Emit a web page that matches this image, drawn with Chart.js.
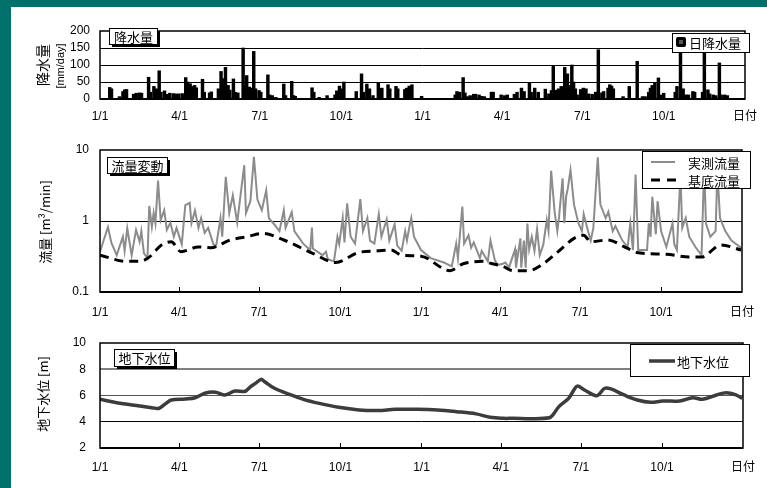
<!DOCTYPE html>
<html>
<head>
<meta charset="utf-8">
<script src="https://cdn.jsdelivr.net/npm/chart.js@4.4.1/dist/chart.umd.min.js"></script>
<style>
  html, body { margin: 0; padding: 0; }
  body {
    width: 767px; height: 488px; overflow: hidden; position: relative;
    background: linear-gradient(165deg, rgba(0,0,0,0) 76%, rgba(255,255,255,0.18) 79%, rgba(0,0,0,0) 84%), #00706b;
  }
  #panel { position: absolute; left: 11px; top: 7px; width: 756px; height: 481px; background: #fff; }
  canvas { position: absolute; left: 0; }
</style>
</head>
<body>
<div id="panel"></div>
<canvas id="rain" width="767" height="130" style="top:0"></canvas>
<canvas id="flow" width="767" height="190" style="top:130px"></canvas>
<canvas id="gw" width="767" height="168" style="top:320px"></canvas>
<script>
// x axis: days from 1/1 of the first year (two years)
const tickDays = [0, 90, 181, 273, 365, 455, 546, 638, 730];
const tickLabels = ["1/1", "4/1", "7/1", "10/1", "1/1", "4/1", "7/1", "10/1", "日付"];

// daily rainfall (mm/day), only rainy days
const rainDay = [11, 13, 22, 26, 28, 30, 38, 41, 45, 47, 55, 57, 61, 64, 67, 69, 73, 76, 79, 83, 86, 89, 93, 96, 97, 99,
  102, 105, 107, 109, 116, 118, 124, 126, 134, 137, 140, 142, 145, 147, 151, 153, 156, 162, 164, 166, 169, 171, 174, 176,
  180, 182, 190, 192, 195, 199, 208, 210, 217, 219, 221, 240, 242, 248, 257, 266, 268, 271, 273, 276, 290, 296, 298,
  302, 305, 309, 315, 317, 319, 326, 328, 335, 337, 345, 347, 350, 353, 364,
  402, 404, 407, 411, 413, 416, 419, 423, 425, 429, 432, 435, 443, 445, 454, 458, 461, 469, 472, 477, 480, 486, 488,
  492, 496, 504, 508, 511, 513, 516, 519, 522, 525, 526, 529, 531, 534, 536, 538, 540, 544, 547, 550, 553, 557, 561,
  564, 568, 570, 575, 577, 579, 581, 592, 599, 608, 614, 617, 621, 623, 625, 628, 632, 635, 638, 651, 653, 657, 660,
  663, 666, 671, 673, 682, 684, 688, 690, 694, 697, 701, 703, 707, 710];
const rainMm = [34, 30, 7, 22, 27, 28, 14, 17, 18, 17, 64, 20, 37, 30, 83, 20, 24, 14, 17, 16, 15, 15, 16, 12, 63, 50,
  45, 37, 40, 33, 58, 20, 18, 21, 30, 81, 60, 93, 40, 26, 59, 20, 18, 150, 40, 69, 35, 32, 140, 30,
  25, 20, 71, 12, 10, 5, 44, 10, 52, 10, 8, 33, 20, 5, 10, 12, 24, 38, 30, 50, 22, 74, 20,
  44, 30, 10, 49, 30, 32, 42, 30, 37, 30, 28, 32, 38, 42, 8,
  12, 22, 20, 63, 18, 7, 10, 14, 14, 12, 8, 7, 20, 20, 12, 10, 12, 14, 20, 32, 22, 47, 20,
  32, 20, 29, 15, 25, 96, 26, 30, 37, 30, 93, 74, 40, 100, 50, 30, 12, 28, 32, 30, 15, 14, 20,
  145, 18, 22, 32, 42, 38, 30, 7, 37, 111, 7, 7, 20, 32, 40, 47, 62, 12, 17, 20, 37, 136, 30,
  12, 12, 22, 20, 20, 141, 27, 15, 12, 10, 106, 12, 12, 10];

// measured flow (m3/min)
const flowDay = [0, 9, 13, 19, 26, 28, 31, 36, 41, 45, 47, 50, 54, 56, 59, 61, 63, 66, 69, 73, 76, 80, 84, 87, 93, 97,
  102, 104, 108, 112, 115, 119, 123, 129, 132, 137, 139, 143, 147, 151, 156, 164, 166, 171, 175, 179, 184, 189, 192,
  198, 204, 209, 211, 218, 221, 231, 239, 241, 242, 253, 257, 259, 266, 270, 272, 276, 278, 281, 285, 290, 296, 299,
  304, 307, 312, 317, 320, 326, 329, 335, 338, 343, 347, 349, 352, 354, 357, 365, 376, 391, 400, 405, 407, 412, 414,
  419, 422, 425, 432, 434, 441, 444, 449, 452, 458, 461, 465, 472, 473, 478, 479, 482, 484, 486, 488, 491, 494, 497,
  500, 504, 508, 510, 513, 517, 520, 522, 526, 528, 530, 532, 535, 539, 544, 548, 550, 555, 558, 561, 566, 569, 575,
  578, 583, 586, 594, 600, 603, 606, 609, 612, 622, 624, 626, 628, 632, 634, 638, 644, 651, 653, 656, 660, 662, 666,
  670, 677, 684, 687, 689, 694, 700, 702, 705, 711, 718, 729];
const flowVal = [0.37, 0.82, 0.49, 0.33, 0.6, 0.38, 0.79, 0.33, 0.75, 0.51, 0.72, 0.35, 0.3, 1.63, 0.83, 1.3, 0.93, 3.7,
  1.03, 1.42, 0.75, 0.95, 0.6, 0.8, 0.47, 1.67, 1.8, 0.93, 1.4, 0.8, 1.1, 0.68, 0.8, 0.47, 0.44, 1.1, 0.6, 4.2, 1.3,
  2.3, 0.95, 6.1, 1.3, 1.9, 8.0, 2.0, 1.42, 2.7, 1.1, 0.9, 0.72, 1.42, 0.8, 1.33, 0.72, 0.48, 0.39, 0.81, 0.41, 0.33,
  0.37, 0.29, 0.27, 0.6, 0.47, 1.1, 0.5, 1.77, 0.6, 0.48, 2.04, 0.72, 1.1, 0.53, 0.48, 1.25, 0.6, 1.05, 0.53, 0.9,
  0.45, 0.38, 0.72, 0.53, 0.85, 1.1, 0.6, 0.39, 0.3, 0.26, 0.23, 0.48, 0.3, 1.6, 0.48, 0.63, 0.42, 0.5, 0.3, 0.38,
  0.27, 0.53, 0.28, 0.24, 0.25, 0.26, 0.22, 0.4, 0.22, 0.57, 0.22, 0.53, 0.22, 0.92, 0.4, 0.6, 0.38, 0.77, 0.33, 0.46,
  1.03, 0.72, 5.1, 1.32, 0.72, 1.15, 4.0, 0.93, 2.2, 2.9, 5.2, 1.7, 0.93, 0.72, 1.25, 0.72, 0.53, 0.8, 7.9, 1.7, 1.1,
  1.35, 0.72, 0.85, 0.53, 0.43, 0.93, 0.39, 4.5, 0.39, 0.39, 0.93, 0.6, 2.2, 0.65, 1.9, 0.72, 0.43, 0.93, 0.47, 0.39,
  4.5, 0.8, 1.1, 0.6, 0.43, 0.33, 6.0, 0.93, 0.6, 0.72, 5.0, 1.1, 0.72, 0.53, 0.42];

// base flow (m3/min)
const baseDay = [0, 30, 45, 56, 70, 81, 92, 112, 126, 148, 167, 185, 209, 242, 268, 294, 316, 331, 343, 365, 398, 413,
  435, 446, 458, 469, 488, 502, 521, 539, 550, 558, 577, 600, 610, 644, 670, 684, 706, 729];
const baseVal = [0.33, 0.27, 0.27, 0.31, 0.46, 0.51, 0.37, 0.43, 0.42, 0.54, 0.6, 0.67, 0.54, 0.35, 0.26, 0.36, 0.38,
  0.39, 0.33, 0.32, 0.2, 0.25, 0.27, 0.25, 0.23, 0.2, 0.2, 0.24, 0.37, 0.57, 0.63, 0.51, 0.54, 0.41, 0.36, 0.34, 0.31,
  0.31, 0.46, 0.39];

// groundwater level (m)
const gwDay = [0, 19, 45, 64, 67, 75, 81, 97, 108, 119, 131, 142, 153, 164, 167, 171, 176, 183, 187, 198, 212, 231, 249,
  271, 294, 316, 335, 360, 383, 405, 427, 443, 458, 469, 491, 510, 514, 521, 532, 538, 542, 550, 564, 573, 580, 595,
  610, 625, 639, 658, 673, 684, 700, 711, 722, 729];
const gwVal = [5.71, 5.45, 5.2, 5.02, 5.02, 5.4, 5.66, 5.74, 5.83, 6.17, 6.25, 6.04, 6.34, 6.3, 6.42, 6.67, 6.9, 7.23,
  7.05, 6.55, 6.17, 5.71, 5.4, 5.1, 4.9, 4.85, 4.95, 4.95, 4.9, 4.77, 4.6, 4.34, 4.26, 4.26, 4.23, 4.3, 4.51, 5.15,
  5.78, 6.42, 6.72, 6.42, 5.99, 6.55, 6.5, 6.04, 5.66, 5.48, 5.58, 5.58, 5.83, 5.71, 6.04, 6.21, 6.04, 5.78];

const JP = '"Noto Sans CJK JP", sans-serif';
Chart.defaults.font.family = '"Liberation Sans", "Noto Sans CJK JP", sans-serif';
Chart.defaults.font.size = 12;
Chart.defaults.color = "#000";

const pts = (xs, ys) => xs.map((x, i) => ({ x: x, y: ys[i] }));

// frame, inner ticks, title box, legend and y title
const decor = {
  id: "decor",
  afterDraw(chart, args, o) {
    const { ctx, chartArea: a } = chart;
    ctx.save();
    ctx.strokeStyle = "#000";
    ctx.lineWidth = 1.5;
    ctx.strokeRect(a.left, a.top, a.right - a.left, a.bottom - a.top);
    ctx.lineWidth = 2;
    ctx.beginPath();
    ctx.moveTo(a.left, a.bottom);
    ctx.lineTo(a.right, a.bottom);
    ctx.stroke();

    if (o.innerTicks) {
      const xs = chart.scales.x;
      ctx.lineWidth = 1;
      tickDays.slice(1, -1).forEach(d => {
        const px = Math.round(xs.getPixelForValue(d)) + 0.5;
        ctx.beginPath();
        ctx.moveTo(px, a.bottom);
        ctx.lineTo(px, a.bottom - 5);
        ctx.stroke();
      });
    }

    // title box with shadow
    const t = o.title;
    ctx.fillStyle = "#000";
    ctx.fillRect(t.x + 3, t.y + 3, t.w, t.h);
    ctx.fillStyle = "#fff";
    ctx.fillRect(t.x, t.y, t.w, t.h);
    ctx.lineWidth = 1;
    ctx.strokeRect(t.x + 0.5, t.y + 0.5, t.w, t.h);
    ctx.fillStyle = "#000";
    ctx.font = "13px " + JP;
    ctx.textAlign = "center";
    ctx.textBaseline = "middle";
    ctx.fillText(t.text, t.x + t.w / 2 + 0.5, t.y + t.h / 2 + 1);

    // legend box
    const l = o.legend;
    ctx.fillStyle = "#fff";
    ctx.fillRect(l.x, l.y, l.w, l.h);
    ctx.strokeRect(l.x + 0.5, l.y + 0.5, l.w, l.h);
    l.items.forEach(it => {
      if (it.square) {
        ctx.fillStyle = "#000";
        ctx.beginPath();
        ctx.roundRect(it.sx, it.y - 5, 10, 10, 2);
        ctx.fill();
        ctx.fillStyle = "#555";
        ctx.fillRect(it.sx + 3, it.y - 2, 4, 4);
      } else {
        ctx.strokeStyle = it.color;
        ctx.lineWidth = it.width;
        ctx.setLineDash(it.dash || []);
        ctx.beginPath();
        ctx.moveTo(it.sx, it.y);
        ctx.lineTo(it.sx + it.sw, it.y);
        ctx.stroke();
        ctx.setLineDash([]);
      }
      ctx.fillStyle = "#000";
      ctx.font = "13px " + JP;
      ctx.textAlign = "left";
      ctx.fillText(it.text, it.tx, it.y + 1);
    });

    // vertical axis titles
    o.yTitles.forEach(y => {
      ctx.save();
      ctx.translate(y.x, y.y);
      ctx.rotate(-Math.PI / 2);
      ctx.font = y.font;
      ctx.textAlign = "center";
      ctx.textBaseline = "middle";
      ctx.fillStyle = "#000";
      ctx.fillText(y.text, 0, 0);
      ctx.restore();
    });
    ctx.restore();
  }
};

function xAxis(height, pad) {
  return {
    type: "linear", min: 0, max: 730, offset: false,
    grid: { display: false, drawTicks: false },
    border: { display: false },
    afterBuildTicks: s => { s.ticks = tickDays.map(v => ({ value: v })); },
    afterFit: s => { s.height = height; },
    ticks: { autoSkip: false, maxRotation: 0, padding: pad, callback: v => tickLabels[tickDays.indexOf(v)] }
  };
}

function gridColor(min, max, colors) {
  return c => {
    const v = c.tick.value;
    if (v === min || v === max) return "rgba(0,0,0,0)";
    return (colors && colors[v]) || "#000";
  };
}

// rainfall chart
new Chart(document.getElementById("rain"), {
  type: "bar",
  data: {
    datasets: [{
      label: "日降水量",
      data: pts(rainDay, rainMm),
      backgroundColor: "#000",
      barThickness: 2.8,
      grouped: false
    }]
  },
  options: {
    responsive: false, animation: false, events: [],
    layout: { padding: { top: 31, right: 13, left: 0, bottom: 0 } },
    plugins: {
      legend: { display: false }, tooltip: { enabled: false },
      decor: {
        innerTicks: false,
        title: { x: 109, y: 28, w: 48, h: 16, text: "降水量" },
        legend: { x: 672, y: 33, w: 77, h: 19, items: [{ square: true, sx: 676, y: 42, tx: 689, text: "日降水量" }] },
        yTitles: [
          { x: 43, y: 65, text: "降水量", font: "14px " + JP },
          { x: 61, y: 66, text: "[mm/day]", font: "11px \"Liberation Sans\"" }
        ]
      }
    },
    scales: {
      x: xAxis(31, 10),
      y: {
        min: 0, max: 200,
        afterFit: s => { s.width = 100; },
        afterBuildTicks: s => { s.ticks = [0, 50, 100, 150, 200].map(v => ({ value: v })); },
        border: { display: false },
        grid: { drawTicks: false, color: gridColor(0, 200) },
        ticks: { autoSkip: false, padding: 10 }
      }
    }
  },
  plugins: [decor]
});

// flow chart
new Chart(document.getElementById("flow"), {
  type: "line",
  data: {
    datasets: [
      {
        label: "基底流量",
        data: pts(baseDay, baseVal),
        borderColor: "#000", borderWidth: 3, borderDash: [9, 6],
        pointRadius: 0, cubicInterpolationMode: "monotone", order: 1
      },
      {
        label: "実測流量",
        data: pts(flowDay, flowVal),
        borderColor: "#8c8c8c", borderWidth: 2,
        pointRadius: 0, tension: 0, order: 2
      }
    ]
  },
  options: {
    responsive: false, animation: false, events: [],
    layout: { padding: { top: 20, right: 13, left: 0, bottom: 0 } },
    plugins: {
      legend: { display: false }, tooltip: { enabled: false },
      decor: {
        innerTicks: true,
        title: { x: 107, y: 27, w: 60, h: 16, text: "流量変動" },
        legend: {
          x: 642, y: 21, w: 108, h: 37, items: [
            { sx: 651, sw: 24, y: 32, color: "#8c8c8c", width: 2, tx: 688, text: "実測流量" },
            { sx: 651, sw: 25, y: 50, color: "#000", width: 3, dash: [9, 7], tx: 688, text: "基底流量" }
          ]
        },
        yTitles: [{ x: 45, y: 92, text: "流量 [m³/min]", font: "13px " + JP }]
      }
    },
    scales: {
      x: xAxis(28, 13),
      y: {
        type: "logarithmic", min: 0.1, max: 10,
        afterFit: s => { s.width = 100; },
        afterBuildTicks: s => { s.ticks = [0.1, 1, 10].map(v => ({ value: v })); },
        border: { display: false },
        grid: { drawTicks: false, color: gridColor(0.1, 10) },
        ticks: { autoSkip: false, padding: 11, callback: v => String(v) }
      }
    }
  },
  plugins: [decor]
});

// groundwater chart
new Chart(document.getElementById("gw"), {
  type: "line",
  data: {
    datasets: [{
      label: "地下水位",
      data: pts(gwDay, gwVal),
      borderColor: "#3c3c3c", borderWidth: 3.5,
      pointRadius: 0, tension: 0.35
    }]
  },
  options: {
    responsive: false, animation: false, events: [],
    layout: { padding: { top: 23, right: 14, left: 0, bottom: 0 } },
    plugins: {
      legend: { display: false }, tooltip: { enabled: false },
      decor: {
        innerTicks: true,
        title: { x: 114, y: 29, w: 60, h: 17, text: "地下水位" },
        legend: {
          x: 630, y: 24, w: 119, h: 32, items: [
            { sx: 649, sw: 26, y: 41, color: "#3c3c3c", width: 3.5, tx: 677, text: "地下水位" }
          ]
        },
        yTitles: [{ x: 43, y: 74, text: "地下水位 [m]", font: "13px " + JP }]
      }
    },
    scales: {
      x: xAxis(40, 12),
      y: {
        min: 2, max: 10,
        afterFit: s => { s.width = 100; },
        border: { display: false },
        grid: {
          drawTicks: false, color: gridColor(2, 10, { 8: "#808080", 6: "#555" }),
          lineWidth: c => (c.tick.value === 8 ? 2 : 1)
        },
        ticks: { autoSkip: false, stepSize: 2, padding: 14 }
      }
    }
  },
  plugins: [decor]
});
</script>
</body>
</html>
